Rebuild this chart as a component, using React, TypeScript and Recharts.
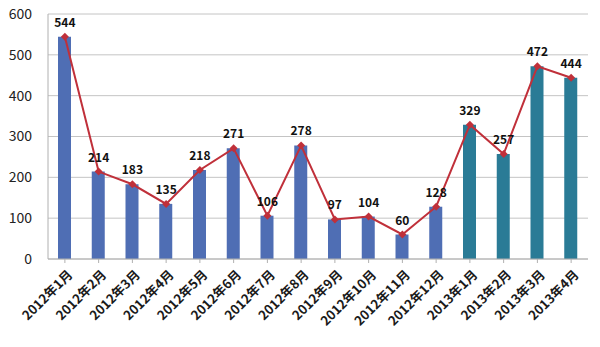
import { ComposedChart, Bar, Line, XAxis, YAxis, CartesianGrid, LabelList, Cell } from "recharts";

const months = [
  "2012年1月", "2012年2月", "2012年3月", "2012年4月", "2012年5月", "2012年6月",
  "2012年7月", "2012年8月", "2012年9月", "2012年10月", "2012年11月", "2012年12月",
  "2013年1月", "2013年2月", "2013年3月", "2013年4月",
];
const counts = [544, 214, 183, 135, 218, 271, 106, 278, 97, 104, 60, 128, 329, 257, 472, 444];
const yTicks = [0, 100, 200, 300, 400, 500, 600];

const rows = months.map((m, i) => ({ month: m, bar: counts[i], line: counts[i] }));

const FONT = "'Noto Sans CJK SC', 'Noto Sans', sans-serif";

const MonthTick = (props: any) => {
  const { x, y, payload } = props;
  return (
    <text
      x={x + 6}
      y={y + 8}
      transform={`rotate(-45, ${x + 6}, ${y + 8})`}
      textAnchor="end"
      dominantBaseline="middle"
      fontSize={13}
      fontWeight="bold"
      fill="#1a1a1a"
      fontFamily={FONT}
    >
      {payload.value}
    </text>
  );
};

const Diamond = (props: any) => {
  const { cx, cy } = props;
  if (cx == null || cy == null) return null;
  const r = 4;
  return <path d={`M${cx},${cy - r}L${cx + r},${cy}L${cx},${cy + r}L${cx - r},${cy}Z`} fill="#c0303a" />;
};

export default function App() {
  return (
    <div style={{ position: "absolute", left: 0, top: 0, width: 600, height: 347, background: "#fff" }}>
      <ComposedChart
        width={600}
        height={347}
        data={rows}
        margin={{ top: 14, right: 12, left: 0, bottom: 0 }}
        barCategoryGap="30%"
      >
        <CartesianGrid vertical={false} stroke="#c4c4c4" />
        <XAxis
          dataKey="month"
          interval={0}
          height={88}
          tick={<MonthTick />}
          tickLine={{ stroke: "#b0b0b0" }}
          axisLine={{ stroke: "#b0b0b0" }}
          tickSize={4}
        />
        <YAxis
          domain={[0, 600]}
          ticks={yTicks}
          width={48}
          tickLine={false}
          axisLine={{ stroke: "#b0b0b0" }}
          tick={{ fontSize: 14, fill: "#222", fontFamily: FONT }}
          tickMargin={10}
        />
        <Bar dataKey="bar" barSize={13} isAnimationActive={false}>
          {rows.map((r, i) => (
            <Cell key={r.month} fill={i < 12 ? "#4f6eb4" : "#2a7b96"} />
          ))}
        </Bar>
        <Line
          dataKey="line"
          stroke="#c0303a"
          strokeWidth={2}
          dot={<Diamond />}
          activeDot={false}
          isAnimationActive={false}
        >
          <LabelList
            dataKey="line"
            position="top"
            offset={10}
            style={{ fontSize: 12, fontWeight: "bold", fill: "#111", fontFamily: FONT }}
          />
        </Line>
      </ComposedChart>
    </div>
  );
}
